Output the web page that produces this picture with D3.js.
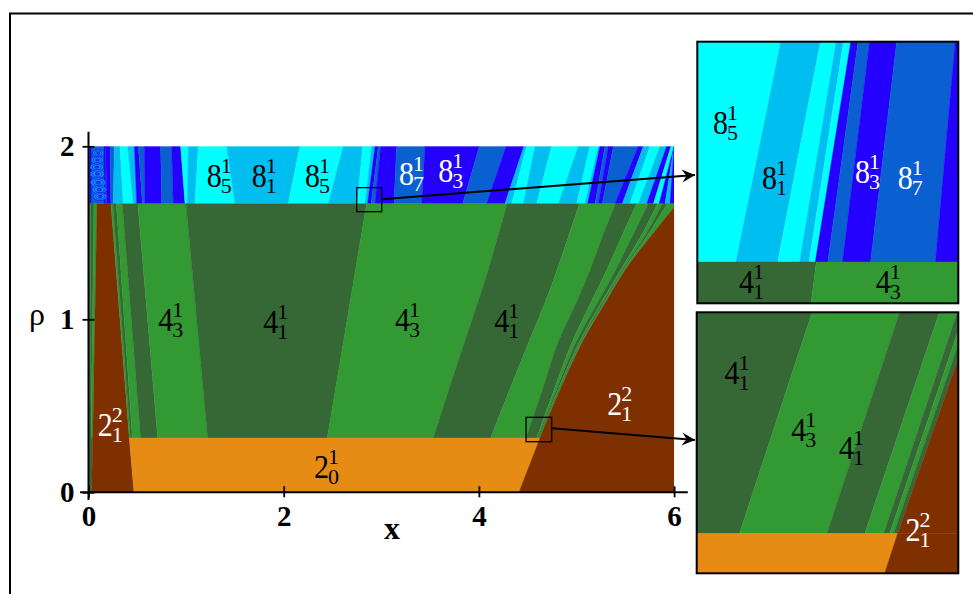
<!DOCTYPE html>
<html>
<head>
<meta charset="utf-8">
<script src="https://cdn.jsdelivr.net/npm/d3@7"></script>
<style>
body { margin: 0; background: #fff; }
svg { display: block; }
text { font-family: "Liberation Serif", serif; }
</style>
</head>
<body>
<div id="chart"></div>
<script>
var CYAN = "#00ffff", LIGHT = "#00bff0", MID = "#0a60d0", BLUE = "#2400ff";
var DARK = "#366835", GREEN = "#339933", BROWN = "#7f3000", ORANGE = "#e68c14";

// rho = 2 down to the 8-cycle boundary, each edge is [x at top, x at bottom]
var upperRho = [2, 1.668];
var upperEdges = [
    [0.176, 0.186], [0.220, 0.230], [0.265, 0.254], [0.323, 0.357], [0.401, 0.459],
    [0.470, 0.494], [0.511, 0.552], [0.572, 0.579], [0.739, 0.750], [0.852, 0.869],
    [0.944, 0.989], [1.023, 1.013], [1.125, 1.091], [1.416, 1.501], [2.167, 2.047],
    [2.611, 2.457], [2.809, 2.754], [2.901, 2.833], [2.936, 2.860], [2.970, 2.895],
    [2.994, 2.935], [3.157, 3.130], [3.448, 3.414], [4.005, 3.834], [4.278, 4.079],
    [4.462, 4.267], [4.489, 4.336], [4.575, 4.455], [4.746, 4.592], [5.019, 4.814],
    [5.138, 5.002], [5.224, 5.087], [5.241, 5.114], [5.292, 5.190], [5.326, 5.224],
    [5.378, 5.265], [5.633, 5.394], [5.685, 5.469], [5.753, 5.548], [5.856, 5.633],
    [5.924, 5.720], [5.968, 5.788], [6, 5.846], [6, 5.907], [6, 5.958], [6, 6]
];
var upperColors = [
    MID, BLUE, MID, LIGHT, CYAN,
    LIGHT, BLUE, MID, BLUE, MID,
    BLUE, CYAN, LIGHT, CYAN, LIGHT,
    CYAN, LIGHT, CYAN, LIGHT, BLUE,
    MID, BLUE, MID, BLUE, MID,
    BLUE, LIGHT, CYAN, LIGHT, CYAN,
    LIGHT, CYAN, LIGHT, BLUE, MID,
    BLUE, MID, BLUE, LIGHT, CYAN,
    LIGHT, BLUE, CYAN, BLUE, LIGHT, BLUE
];

// moire patch next to the rho axis
var ringX = [0.10, 0.09, 0.085, 0.09, 0.10, 0.11, 0.12];
var ringRho = [1.96, 1.92, 1.88, 1.84, 1.79, 1.75, 1.71];
var ringR = [0.06, 0.065, 0.07, 0.075, 0.08, 0.075, 0.07];
var ringScale = [1, 0.65, 0.3];
var ringFill = [LIGHT, "none", BLUE];
var streakX = [0.022, 0.165];

// left part of the 4-cycle zone, [x at top, x at bottom]
var leftRho = [1.668, 0.314];
var leftEdges = [
    [0.026, 0.014], [0.056, 0.026], [0.087, 0.043], [0.230, 0.418], [0.250, 0.430],
    [0.285, 0.450], [0.347, 0.534], [0.505, 0.709], [0.999, 1.221], [2.850, 2.447]
];
var leftColors = [GREEN, DARK, GREEN, BROWN, GREEN, DARK, GREEN, DARK, GREEN, DARK];

// right part, these edges bend so they are read at more rows
var rightRho = [1.668, 1.5, 1.284, 1.1, 0.88, 0.6, 0.314];
var rightEdges = [
    [2.850, 2.80, 2.735, 2.68, 2.615, 2.53, 2.447],
    [4.291, 4.205, 4.095, 3.99, 3.86, 3.695, 3.533],
    [5.030, 4.93, 4.80, 4.68, 4.52, 4.32, 4.120],
    [5.400, 5.28, 5.138, 5.00, 4.82, 4.655, 4.483],
    [5.616, 5.48, 5.309, 5.15, 4.965, 4.775, 4.592],
    [5.736, 5.59, 5.40, 5.22, 5.005, 4.80, 4.600],
    [5.830, 5.68, 5.45, 5.255, 5.04, 4.815, 4.610],
    [5.880, 5.72, 5.47, 5.27, 5.05, 4.825, 4.615],
    [5.930, 5.745, 5.482, 5.285, 5.06, 4.831, 4.620],
    [6.030, 5.79, 5.497, 5.30, 5.072, 4.838, 4.626],
    [6.10, 6.10, 6.10, 6.10, 6.10, 6.10, 6.10]
];
var rightColors = [GREEN, DARK, GREEN, DARK, GREEN, DARK, GREEN, DARK, GREEN, BROWN];

// below the 4-cycle zone
var baseRho = [0.314, 0];
var baseEdges = [[0.012, 0.008], [0.043, 0.032], [0.418, 0.466], [4.626, 4.411], [6, 6]];
var baseColors = [GREEN, DARK, BROWN, ORANGE, BROWN];

// inset 1
var inset1Domain = [2.75, 3.0];
var inset1Rho = [1.647, 1.78];
var inset1UpperRho = [1.78, 1.668];
var inset1UpperEdges = [
    [2.830, 2.787], [2.868, 2.827], [2.883, 2.848], [2.890, 2.857], [2.897, 2.863],
    [2.904, 2.875], [2.915, 2.889], [2.941, 2.916], [2.997, 2.978], [3.01, 3.01]
];
var inset1UpperColors = [CYAN, LIGHT, CYAN, LIGHT, CYAN, BLUE, MID, BLUE, MID, BLUE];
var inset1LowerRho = [1.668, 1.647];
var inset1LowerEdges = [[2.864, 2.859], [3.01, 3.01]];
var inset1LowerColors = [DARK, GREEN];

// inset 2
var inset2Domain = [4.483, 4.746];
var inset2Rho = [0.2925, 0.4335];
var inset2UpperRho = [0.4335, 0.314];
var inset2UpperEdges = [
    [4.599, 4.526], [4.687, 4.614], [4.727, 4.652], [4.745, 4.671], [4.752, 4.677],
    [4.757, 4.681], [4.762, 4.685], [4.80, 4.80]
];
var inset2UpperColors = [DARK, GREEN, DARK, GREEN, DARK, GREEN, DARK, BROWN];
var inset2LowerRho = [0.314, 0.2925];
var inset2LowerEdges = [[4.685, 4.672], [4.80, 4.80]];
var inset2LowerColors = [ORANGE, BROWN];

// region names: big digit, subscript, superscript
var mainLabelX = [1.211, 1.672, 2.218, 3.181, 3.584, 0.715, 1.791, 3.14, 4.158, 0.094, 2.31, 5.316];
var mainLabelRho = [1.766, 1.766, 1.766, 1.776, 1.792, 0.932, 0.919, 0.932, 0.928, 0.325, 0.084, 0.447];
var mainLabelBig = [8, 8, 8, 8, 8, 4, 4, 4, 4, 2, 2, 2];
var mainLabelSub = [5, 1, 5, 7, 3, 3, 1, 3, 1, 1, 0, 1];
var mainLabelSup = [1, 1, 1, 1, 1, 1, 1, 1, 1, 2, 1, 2];
var mainLabelFill = ["#000", "#000", "#000", "#fff", "#fff", "#000", "#000", "#000", "#000", "#fff", "#000", "#fff"];

var inset1LabelX = [2.765, 2.812, 2.901, 2.942, 2.790, 2.921];
var inset1LabelRho = [1.733, 1.705, 1.708, 1.705, 1.652, 1.652];
var inset1LabelBig = [8, 8, 8, 8, 4, 4];
var inset1LabelSub = [5, 1, 3, 7, 1, 3];
var inset1LabelSup = [1, 1, 1, 1, 1, 1];
var inset1LabelFill = ["#000", "#000", "#fff", "#fff", "#000", "#000"];

var inset2LabelX = [4.511, 4.578, 4.626, 4.693];
var inset2LabelRho = [0.395, 0.364, 0.354, 0.310];
var inset2LabelBig = [4, 4, 4, 2];
var inset2LabelSub = [1, 3, 1, 1];
var inset2LabelSup = [1, 1, 1, 2];
var inset2LabelFill = ["#000", "#000", "#000", "#fff"];

// zoom boxes and their arrows
var box1X = [2.748, 3.004], box1Rho = [1.622, 1.761];
var box2X = [4.483, 4.746], box2Rho = [0.2925, 0.4335];
var arrow1X = [3.004, 6.214], arrow1Rho = [1.694, 1.834];
var arrow2X = [4.746, 6.214], arrow2Rho = [0.370, 0.302];

var xTicks = [0, 2, 4, 6];
var rhoTicks = [0, 1, 2];
var xAxisExtent = [-0.087, 6.14];
var rhoAxisExtent = [-0.045, 2.084];

var svg = d3.select("#chart").append("svg")
    .attr("width", 973)
    .attr("height", 594);

var defs = svg.append("defs");

defs.append("marker")
    .attr("id", "arrowHead")
    .attr("viewBox", "-14 -7 15 14")
    .attr("refX", 0)
    .attr("refY", 0)
    .attr("markerUnits", "userSpaceOnUse")
    .attr("markerWidth", 15)
    .attr("markerHeight", 14)
    .attr("orient", "auto")
    .append("path")
    .attr("d", "M-13,-6.5 L0,0 L-13,6.5 L-8.5,0 Z")
    .attr("fill", "#000");

// outer frame, only top and left fall inside the window
svg.append("path")
    .attr("d", "M10,594 L10,13.5 L973,13.5")
    .attr("fill", "none")
    .attr("stroke", "#000")
    .attr("stroke-width", 2);

var x = d3.scaleLinear().domain([0, 6]).range([88.5, 674.1]);
var y = d3.scaleLinear().domain([0, 2]).range([492.3, 146.3]);

var x1 = d3.scaleLinear().domain(inset1Domain).range([697.3, 958.3]);
var y1 = d3.scaleLinear().domain(inset1Rho).range([303.3, 41.7]);
var x2 = d3.scaleLinear().domain(inset2Domain).range([696.7, 958.3]);
var y2 = d3.scaleLinear().domain(inset2Rho).range([573.3, 312.3]);

function addClip(id, xs, ys) {
    defs.append("clipPath").attr("id", id)
        .append("rect")
        .attr("x", xs.range()[0])
        .attr("y", ys.range()[1])
        .attr("width", xs.range()[1] - xs.range()[0])
        .attr("height", ys.range()[0] - ys.range()[1]);
}
addClip("clipMain", x, y);
addClip("clipInset1", x1, y1);
addClip("clipInset2", x2, y2);

// each band runs from the previous edge to its own edge
function drawBands(g, rhos, startEdge, edges, colors, xs, ys) {
    var area = d3.area()
        .y(function(d) { return ys(d); })
        .curve(d3.curveMonotoneY);
    g.selectAll(null)
        .data(colors)
        .enter()
        .append("path")
        .attr("fill", function(d) { return d; })
        .attr("stroke", function(d) { return d; })
        .attr("stroke-width", 0.4)
        .attr("d", function(d, i) {
            var a = i === 0 ? startEdge : edges[i - 1];
            var b = edges[i];
            return area
                .x0(function(r, k) { return xs(a[k]); })
                .x1(function(r, k) { return xs(b[k]); })(rhos);
        });
}

function drawLabels(g, xs, rhos, bigs, subs, sups, fills, xScale, yScale) {
    var lab = g.selectAll(null)
        .data(xs)
        .enter()
        .append("g")
        .attr("transform", function(d, i) {
            return "translate(" + xScale(d) + "," + yScale(rhos[i]) + ")";
        })
        .attr("fill", function(d, i) { return fills[i]; });
    lab.append("text")
        .attr("font-size", 34)
        .attr("textLength", 15)
        .attr("lengthAdjust", "spacingAndGlyphs")
        .text(function(d, i) { return bigs[i]; });
    lab.append("text")
        .attr("x", 14)
        .attr("y", -14)
        .attr("font-size", 22)
        .text(function(d, i) { return sups[i]; });
    lab.append("text")
        .attr("x", 14)
        .attr("y", 6)
        .attr("font-size", 22)
        .text(function(d, i) { return subs[i]; });
}

var plot = svg.append("g").attr("clip-path", "url(#clipMain)");
drawBands(plot, upperRho, [0, 0], upperEdges, upperColors, x, y);

// moire patch
plot.selectAll(null)
    .data(streakX)
    .enter()
    .append("line")
    .attr("x1", function(d) { return x(d); })
    .attr("x2", function(d) { return x(d); })
    .attr("y1", y(2))
    .attr("y2", y(1.668))
    .attr("stroke", BLUE)
    .attr("stroke-width", 1.5);
ringScale.forEach(function(s, r) {
    plot.selectAll(null)
        .data(ringX)
        .enter()
        .append("ellipse")
        .attr("cx", function(d) { return x(d); })
        .attr("cy", function(d, i) { return y(ringRho[i]); })
        .attr("rx", function(d, i) { return (x(ringR[i]) - x(0)) * s; })
        .attr("ry", function(d, i) { return (x(ringR[i]) - x(0)) * s * 0.6; })
        .attr("fill", ringFill[r])
        .attr("fill-opacity", 0.6)
        .attr("stroke", BLUE)
        .attr("stroke-width", 0.6);
});

drawBands(plot, leftRho, [0, 0], leftEdges, leftColors, x, y);
drawBands(plot, rightRho, rightEdges[0], rightEdges.slice(1), rightColors, x, y);
drawBands(plot, baseRho, [0, 0], baseEdges, baseColors, x, y);

drawLabels(svg.append("g"), mainLabelX, mainLabelRho, mainLabelBig, mainLabelSub, mainLabelSup, mainLabelFill, x, y);

// inset 1
var inset1 = svg.append("g").attr("clip-path", "url(#clipInset1)");
drawBands(inset1, inset1UpperRho, [2.74, 2.74], inset1UpperEdges, inset1UpperColors, x1, y1);
drawBands(inset1, inset1LowerRho, [2.74, 2.74], inset1LowerEdges, inset1LowerColors, x1, y1);
drawLabels(svg.append("g"), inset1LabelX, inset1LabelRho, inset1LabelBig, inset1LabelSub, inset1LabelSup, inset1LabelFill, x1, y1);

// inset 2
var inset2 = svg.append("g").attr("clip-path", "url(#clipInset2)");
drawBands(inset2, inset2UpperRho, [4.47, 4.47], inset2UpperEdges, inset2UpperColors, x2, y2);
drawBands(inset2, inset2LowerRho, [4.47, 4.47], inset2LowerEdges, inset2LowerColors, x2, y2);
drawLabels(svg.append("g"), inset2LabelX, inset2LabelRho, inset2LabelBig, inset2LabelSub, inset2LabelSup, inset2LabelFill, x2, y2);

// inset frames
[[x1, y1], [x2, y2]].forEach(function(s) {
    svg.append("rect")
        .attr("x", s[0].range()[0])
        .attr("y", s[1].range()[1])
        .attr("width", s[0].range()[1] - s[0].range()[0])
        .attr("height", s[1].range()[0] - s[1].range()[1])
        .attr("fill", "none")
        .attr("stroke", "#000")
        .attr("stroke-width", 2);
});

// zoom boxes and arrows
[[box1X, box1Rho], [box2X, box2Rho]].forEach(function(b) {
    svg.append("rect")
        .attr("x", x(b[0][0]))
        .attr("y", y(b[1][1]))
        .attr("width", x(b[0][1]) - x(b[0][0]))
        .attr("height", y(b[1][0]) - y(b[1][1]))
        .attr("fill", "none")
        .attr("stroke", "#000")
        .attr("stroke-width", 1.3);
});
[[arrow1X, arrow1Rho], [arrow2X, arrow2Rho]].forEach(function(a) {
    svg.append("line")
        .attr("x1", x(a[0][0]))
        .attr("y1", y(a[1][0]))
        .attr("x2", x(a[0][1]))
        .attr("y2", y(a[1][1]))
        .attr("stroke", "#000")
        .attr("stroke-width", 2)
        .attr("marker-end", "url(#arrowHead)");
});

// axes, ticks cross the axis line and the lines run past the plot
var xAxis = svg.append("g")
    .attr("transform", "translate(0," + y(0) + ")")
    .call(d3.axisBottom(x).tickValues(xTicks).tickSize(5).tickFormat(d3.format("d")));
var rhoAxis = svg.append("g")
    .attr("transform", "translate(" + x(0) + ",0)")
    .call(d3.axisLeft(y).tickValues(rhoTicks).tickSize(6).tickFormat(d3.format("d")));

xAxis.select(".domain").remove();
rhoAxis.select(".domain").remove();
xAxis.selectAll(".tick line").attr("y1", -6).attr("stroke-width", 1.8);
rhoAxis.selectAll(".tick line").attr("x1", 6).attr("stroke-width", 1.8);
xAxis.selectAll(".tick text")
    .attr("y", 13)
    .attr("dy", "0.71em")
    .attr("font-size", 29)
    .attr("font-weight", "bold");
rhoAxis.selectAll(".tick text")
    .attr("x", -14)
    .attr("dy", "0.32em")
    .attr("font-size", 29)
    .attr("font-weight", "bold");

svg.append("line")
    .attr("x1", x(xAxisExtent[0])).attr("x2", x(xAxisExtent[1]))
    .attr("y1", y(0)).attr("y2", y(0))
    .attr("stroke", "#000").attr("stroke-width", 2);
svg.append("line")
    .attr("x1", x(0)).attr("x2", x(0))
    .attr("y1", y(rhoAxisExtent[0])).attr("y2", y(rhoAxisExtent[1]))
    .attr("stroke", "#000").attr("stroke-width", 2);

svg.append("text")
    .attr("x", 392)
    .attr("y", 539)
    .attr("text-anchor", "middle")
    .attr("font-size", 32)
    .attr("font-weight", "bold")
    .text("x");
svg.append("text")
    .attr("x", 37)
    .attr("y", 325)
    .attr("text-anchor", "middle")
    .attr("font-size", 32)
    .text("ρ");
</script>
</body>
</html>
